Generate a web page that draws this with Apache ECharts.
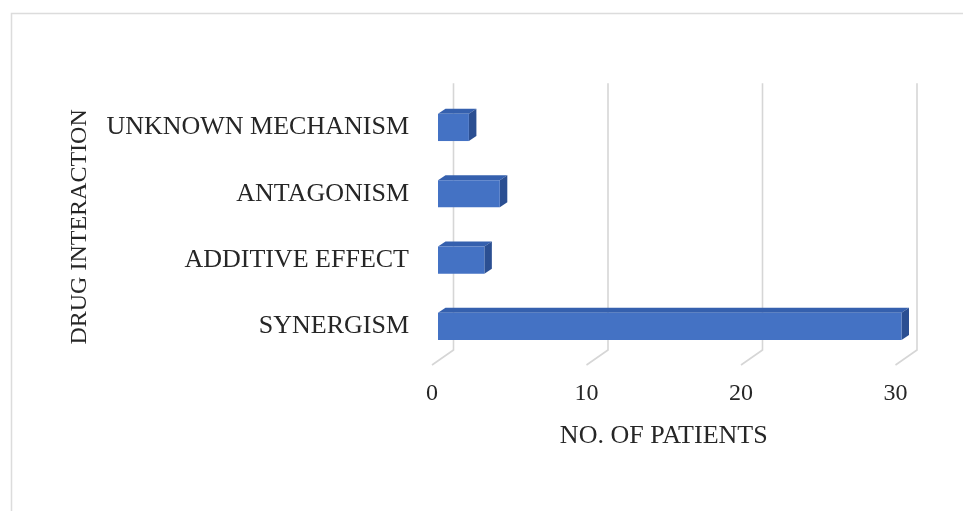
<!DOCTYPE html>
<html>
<head>
<meta charset="utf-8">
<script src="https://cdn.jsdelivr.net/npm/echarts@6/dist/echarts.min.js"></script>
<style>
  html, body { margin: 0; padding: 0; background: #ffffff; }
  #chart { width: 963px; height: 511px; }
</style>
</head>
<body>
<div id="chart"></div>
<script>
// Drug interaction categories, listed bottom to top
const categories = ['SYNERGISM', 'ADDITIVE EFFECT', 'ANTAGONISM', 'UNKNOWN MECHANISM'];
// Number of patients per interaction type
const patients = [30, 3, 4, 2];
// Value-axis ticks
const xTicks = [0, 10, 20, 30];

const FONT = "'Liberation Serif', 'Times New Roman', serif";
const TEXT = '#262626';

// Pseudo-3D depth offsets (pixels)
const BAR_SHIFT = 6;          // bar front face sits slightly behind the floor edge
const BAR_DEPTH = [7.5, -5];  // extrusion of each bar
const WALL = [21.5, -15];     // floor edge -> back wall

const chart = echarts.init(document.getElementById('chart'));

function renderBar(params, api) {
  const ci = api.value(1);
  const v = api.value(0);
  const p0 = api.coord([0, ci]);
  const p1 = api.coord([v, ci]);
  const band = api.size([0, 1])[1];
  const h = band * 0.41;
  const x0 = p0[0] + BAR_SHIFT;
  const x1 = p1[0] + BAR_SHIFT;
  const yT = p0[1] - h / 2;
  const yB = p0[1] + h / 2;
  const dx = BAR_DEPTH[0], dy = BAR_DEPTH[1];
  return {
    type: 'group',
    children: [
      { type: 'polygon', shape: { points: [[x0, yT], [x0 + dx, yT + dy], [x1 + dx, yT + dy], [x1, yT]] },
        style: { fill: '#3560ae' } },
      { type: 'polygon', shape: { points: [[x1, yT], [x1 + dx, yT + dy], [x1 + dx, yB + dy], [x1, yB]] },
        style: { fill: '#2b4f92' } },
      { type: 'polygon', shape: { points: [[x0, yT], [x1, yT], [x1, yB], [x0, yB]] },
        style: { fill: '#4472c4' } }
    ]
  };
}

function renderGridLine(params, api) {
  const rect = params.coordSys;
  const x = api.coord([api.value(0), 0])[0];
  const bottom = rect.y + rect.height;
  const floorY = bottom + 5.5;
  const backX = x + WALL[0];
  const backBottom = floorY + WALL[1];
  return {
    type: 'polyline',
    shape: { points: [[backX, rect.y - 11], [backX, backBottom], [x, floorY]] },
    style: { stroke: '#d6d6d6', lineWidth: 1.6, fill: null }
  };
}

chart.setOption({
  backgroundColor: '#ffffff',
  animation: false,
  graphic: [
    { type: 'rect', left: 9, top: 11, shape: { width: 1000, height: 600 },
      style: { fill: 'none', stroke: '#dcdcdc', lineWidth: 1.5 }, z: -10 }
  ],
  grid: { left: 432, right: 67.5, top: 94.3, bottom: 151.5, containLabel: false },
  xAxis: {
    type: 'value',
    min: 0, max: 30, interval: 10,
    axisLine: { show: false },
    axisTick: { show: false },
    splitLine: { show: false },
    axisLabel: { fontFamily: FONT, fontSize: 24, color: TEXT, margin: 22 },
    name: 'NO. OF PATIENTS',
    nameLocation: 'middle',
    nameGap: 64,
    nameTextStyle: { fontFamily: FONT, fontSize: 26, color: TEXT }
  },
  yAxis: {
    type: 'category',
    data: categories,
    axisLine: { show: false },
    axisTick: { show: false },
    splitLine: { show: false },
    axisLabel: { fontFamily: FONT, fontSize: 26, color: TEXT, margin: 23 },
    name: 'DRUG INTERACTION',
    nameLocation: 'middle',
    nameGap: 340,
    nameRotate: 90,
    nameTextStyle: { fontFamily: FONT, fontSize: 24, color: TEXT }
  },
  series: [
    {
      type: 'custom',
      renderItem: renderGridLine,
      data: xTicks.map(t => [t, 0]),
      encode: { x: 0, y: 1 },
      silent: true,
      z: 1
    },
    {
      type: 'custom',
      renderItem: renderBar,
      data: patients.map((v, i) => [v, i]),
      encode: { x: 0, y: 1 },
      z: 2
    }
  ]
});
</script>
</body>
</html>
